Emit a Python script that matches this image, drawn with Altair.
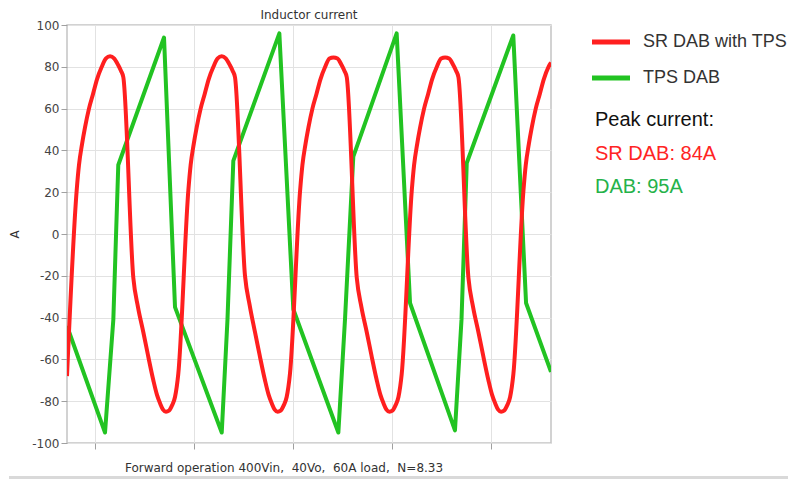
import altair as alt
import pandas as pd

# ---------------- data ----------------
series_names = ["SR DAB with TPS", "TPS DAB"]
series_colors = ["#ff1f1f", "#22c322"]

# SR DAB with TPS (time in us, current in A)
red_time = [
    7.17,
    8.15, 8.38, 8.69, 8.99, 9.39, 9.80, 10.20, 10.68, 11.11, 11.52, 11.92, 12.32, 12.63, 12.86,
    13.87, 14.34, 14.88, 15.35, 15.89, 16.26, 16.57, 16.87, 17.17, 17.47, 17.78, 18.08, 18.41,
    19.43, 19.66, 19.97, 20.27, 20.67, 21.08, 21.48, 21.96, 22.39, 22.80, 23.20, 23.60, 23.91, 24.14,
    25.15, 25.62, 26.16, 26.63, 27.17, 27.54, 27.85, 28.15, 28.45, 28.75, 29.06, 29.36, 29.69,
    30.72, 30.95, 31.26, 31.56, 31.96, 32.37, 32.77, 33.25, 33.68, 34.09, 34.49, 34.89, 35.20, 35.43,
    36.44, 36.91, 37.45, 37.92, 38.46, 38.83, 39.14, 39.44, 39.74, 40.04, 40.35, 40.65, 40.98,
    42.00, 42.23, 42.54, 42.84, 43.24, 43.65, 44.05, 44.53, 44.96, 45.37, 45.77, 46.17, 46.48, 46.71,
    47.72, 48.19, 48.73, 49.20, 49.74, 50.11, 50.42, 50.72, 51.02, 51.32, 51.63, 51.93, 52.26,
    53.28, 53.51, 53.82, 54.12, 54.52, 54.93, 55.33, 55.81, 56.06,
]
red_current = [
    -68,
    21, 33, 43, 51, 60, 67, 74, 80, 84, 85, 84, 81, 78, 75,
    -21, -35, -47, -58, -70, -77, -81, -84, -85, -84.5, -82, -78, -67,
    21, 33, 43, 51, 60, 67, 74, 80, 84, 85, 84, 81, 78, 75,
    -20, -34, -47, -58, -70, -77, -81, -84, -85, -84.5, -82, -78, -67,
    21, 33, 43, 51, 60, 67, 74, 80, 84, 84.5, 84, 81, 78, 75,
    -21, -35, -47, -58, -70, -77, -81, -84, -85, -84.5, -82, -78, -67,
    21, 33, 43, 51, 60, 67, 74, 80, 84, 84.5, 84, 81, 78, 75,
    -21, -35, -47, -58, -70, -77, -81, -84, -85, -84.5, -82, -78, -67,
    21, 33, 43, 51, 60, 67, 74, 80, 82,
]

# TPS DAB
green_time = [7.17, 11.01, 11.85, 12.35, 16.97, 18.08, 22.80, 23.38, 23.97, 28.62, 30.03,
              34.58, 35.25, 36.09, 40.47, 41.82, 46.36, 47.02, 47.55, 52.25, 53.54, 56.06]
green_current = [-44, -95, -41, 33, 94, -35, -95, -41, 35, 96, -36,
                 -95, -41, 37, 96, -33, -94, -41, 34, 95, -33, -66]

y_ticks = [-100, -80, -60, -40, -20, 0, 20, 40, 60, 80, 100]
x_ticks = [10, 20, 30, 40, 50]

title_text = "Inductor current"
y_title = "A"
bottom_text = "Forward operation 400Vin,\u00a0\u00a040Vo,\u00a0\u00a060A load,\u00a0\u00a0N=8.33"
peak_texts = ["Peak current:", "SR DAB: 84A", "DAB: 95A"]
peak_colors = ["#111111", "#ff2424", "#25b24a"]

# ---------------- chart ----------------
W, H = 484, 418
AXIS_FONT = "DejaVu Sans"
LEG_FONT = "Liberation Sans"

red_df = pd.DataFrame({"t": red_time, "current": red_current, "series": series_names[0]})
green_df = pd.DataFrame({"t": green_time, "current": green_current, "series": series_names[1]})

x_enc = alt.X(
    "t:Q",
    scale=alt.Scale(domain=[7.17, 56.06], nice=False, zero=False),
    axis=alt.Axis(values=x_ticks, labels=False, title=None, tickSize=6, tickColor="#a0a0a0",
                  grid=True, gridColor="#e2e2e2", domain=False),
)
y_enc = alt.Y(
    "current:Q",
    scale=alt.Scale(domain=[-100, 100], nice=False, zero=False),
    axis=alt.Axis(values=y_ticks, title=y_title, titleAngle=270, titleX=-53, titleY=H / 2,
                  titleAlign="center", titleBaseline="middle", titleFont=AXIS_FONT,
                  titleFontSize=12, titleFontWeight="normal", titleColor="#333333",
                  labelFont=AXIS_FONT, labelFontSize=12, labelColor="#444444",
                  labelPadding=2, tickSize=6, tickColor="#a0a0a0",
                  labelExpr="'' + datum.value",
                  grid=True, gridColor="#e2e2e2", domain=False),
)

green_line = alt.Chart(green_df).mark_line(strokeWidth=4, strokeJoin="round", clip=True).encode(
    x=x_enc, y=y_enc, color=alt.value(series_colors[1])
)
red_line = alt.Chart(red_df).mark_line(strokeWidth=4, strokeJoin="round", interpolate="monotone",
                                       clip=True).encode(
    x=x_enc, y=y_enc, color=alt.value(series_colors[0])
)

one = alt.Data(values=[{}])
layers = [green_line, red_line]

# legend (manual, to the right of the plot)
for i, (name, col) in enumerate(zip(series_names, series_colors)):
    yy = 17 + 36 * i
    layers.append(
        alt.Chart(one).mark_rule(strokeWidth=5, color=col).encode(
            x=alt.value(525), x2=alt.value(563), y=alt.value(yy)
        )
    )
    layers.append(
        alt.Chart(one).mark_text(align="left", baseline="middle", font=LEG_FONT, fontSize=18,
                                 color="#333333").encode(
            x=alt.value(576), y=alt.value(yy), text=alt.value(name)
        )
    )

for i, (txt, col) in enumerate(zip(peak_texts, peak_colors)):
    layers.append(
        alt.Chart(one).mark_text(align="left", baseline="alphabetic", font=LEG_FONT, fontSize=20,
                                 color=col).encode(
            x=alt.value(528), y=alt.value(101 + 33.5 * i), text=alt.value(txt)
        )
    )

# title and bottom caption
layers.append(
    alt.Chart(one).mark_text(align="center", baseline="middle", font=AXIS_FONT, fontSize=12,
                             color="#333333").encode(
        x=alt.value(242), y=alt.value(-10), text=alt.value(title_text)
    )
)
layers.append(
    alt.Chart(one).mark_text(align="center", baseline="middle", font=AXIS_FONT, fontSize=12,
                             color="#333333").encode(
        x=alt.value(217), y=alt.value(443), text=alt.value(bottom_text)
    )
)
# light gray band at the bottom edge of the picture
layers.append(
    alt.Chart(one).mark_rect(color="#d9d9d9").encode(
        x=alt.value(-58), x2=alt.value(721), y=alt.value(451), y2=alt.value(454)
    )
)

chart = alt.layer(*layers).properties(
    width=W,
    height=H,
    padding={"left": 67, "top": 25, "right": 237, "bottom": 36},
    autosize=alt.AutoSizeParams(type="none"),
    background="white",
).configure_view(stroke="#c4c4c4", strokeWidth=1.5)

chart.save("out.html", embed_options={"renderer": "svg", "actions": False})
